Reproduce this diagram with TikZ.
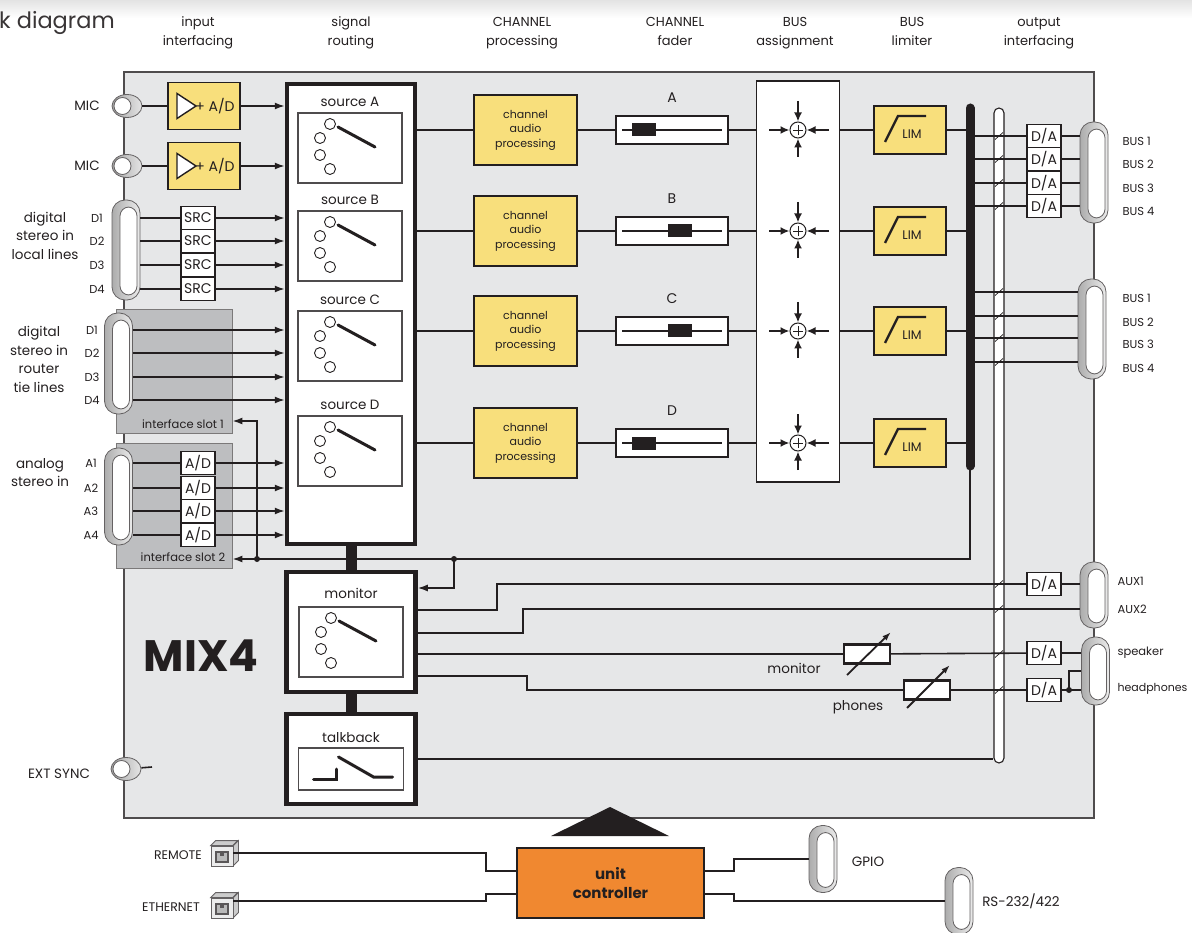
\documentclass[tikz,border=0pt]{standalone}
\usepackage{fontspec}
\setmainfont{Poppins}
\usetikzlibrary{positioning,arrows.meta,shapes.geometric}

\definecolor{ink}{HTML}{231F20}
\definecolor{panel}{HTML}{E6E7E8}
\definecolor{slotgray}{HTML}{BDBEC0}
\definecolor{procyel}{HTML}{F8DF7C}
\definecolor{ctrlorange}{HTML}{F08830}

\tikzset{
  wire/.style={draw=ink, line width=1.6pt},
  arr/.style={wire, -{Latex[length=10pt,width=7pt]}},
  sumarr/.style={draw=ink, line width=2pt, -{Latex[length=9pt,width=8pt]}},
  potarr/.style={draw=ink, line width=1.8pt, -{Latex[length=9pt,width=6pt]}},
  hdr/.style={align=center, text=ink, text height=10pt, text depth=3.5pt, font=\fontsize{13}{19}\selectfont},
  lbl/.style={align=center, text=ink, font=\fontsize{13.5}{18.5}\selectfont},
  sml/.style={text=ink, font=\fontsize{11.5}{14}\selectfont},
  ybox/.style={draw=ink, line width=1.5pt, fill=procyel, inner sep=0pt},
  conv/.style={draw=ink, line width=1.1pt, fill=white, inner sep=0pt, minimum width=34pt,
    minimum height=23pt, text=ink, font=\fontsize{14}{14}\selectfont},
  thickbox/.style={draw=ink, line width=4.5pt, fill=white, inner sep=0pt},
  slotbox/.style={draw=ink!60, line width=0.8pt, fill=slotgray, minimum width=116pt},
  swbox/.style={draw=ink!80, line width=1.2pt, fill=white, minimum width=104pt, minimum height=70pt,
    path picture={
      \coordinate (q) at (path picture bounding box.north west);
      \draw[ink, line width=0.9pt] ([shift={(32pt,-11pt)}]q) circle (5.5pt)
        ([shift={(22pt,-25pt)}]q) circle (5.5pt)
        ([shift={(22pt,-42pt)}]q) circle (5.5pt)
        ([shift={(32pt,-56pt)}]q) circle (5.5pt);
      \draw[ink, line width=3pt, line cap=round] ([shift={(40pt,-14pt)}]q) -- ([shift={(77pt,-34pt)}]q);
    }},
  tkbox/.style={draw=ink!80, line width=1.2pt, fill=white, minimum width=105pt, minimum height=42pt,
    path picture={
      \coordinate (q) at (path picture bounding box.north west);
      \draw[ink, line width=3pt, line cap=round] ([shift={(15pt,-31pt)}]q) -- ([shift={(38pt,-31pt)}]q)
        -- ([shift={(38pt,-21pt)}]q);
      \draw[ink, line width=3pt, line cap=round] ([shift={(40pt,-9pt)}]q) -- ([shift={(75pt,-29pt)}]q)
        -- ([shift={(94pt,-29pt)}]q);
    }},
  amp/.style={ybox, minimum width=72pt, minimum height=47pt, text=ink, font=\fontsize{14}{14}\selectfont,
    path picture={
      \coordinate (q) at (path picture bounding box.west);
      \draw[ink, line width=1.4pt, fill=white] ([shift={(9pt,12.5pt)}]q) -- ([shift={(28pt,0pt)}]q)
        -- ([shift={(9pt,-12.5pt)}]q) -- cycle;
    }},
  chan/.style={ybox, minimum width=103pt, minimum height=70pt, align=center, text=ink,
    font=\fontsize{11}{14.5}\selectfont},
  fader/.style={draw=ink, line width=1.5pt, fill=white, minimum width=112pt, minimum height=28pt, inner sep=0pt,
    path picture={
      \coordinate (q) at (path picture bounding box.west);
      \draw[ink, line width=1.4pt] ([xshift=6pt]q) -- ([xshift=106pt]q);
      \fill[ink] ([shift={(#1,6.5pt)}]q) rectangle ([shift={(#1+24pt,-6.5pt)}]q);
    }},
  summer/.style={circle, draw=ink, line width=1pt, fill=white, minimum size=16pt, inner sep=0pt,
    path picture={
      \draw[ink, line width=0.9pt] ([xshift=-5pt]path picture bounding box.center) -- ([xshift=5pt]path picture bounding box.center)
        ([yshift=-5pt]path picture bounding box.center) -- ([yshift=5pt]path picture bounding box.center);
    }},
  limbox/.style={ybox, minimum width=72pt, minimum height=48pt,
    path picture={
      \coordinate (q) at (path picture bounding box.north west);
      \draw[ink, line width=2.4pt] ([shift={(11pt,-36pt)}]q) -- ([shift={(24pt,-10pt)}]q) -- ([shift={(52pt,-10pt)}]q);
      \node[text=ink, font=\fontsize{12.5}{12.5}\selectfont, inner sep=0pt] at ([shift={(38pt,-28pt)}]q) {LIM};
    }},
  dsub/.style={draw=ink!70, line width=0.8pt, rounded corners=13pt, left color=gray!65, right color=gray!15,
    minimum width=28pt, inner sep=0pt,
    path picture={
      \coordinate (q) at (path picture bounding box.north west);
      \coordinate (r) at (path picture bounding box.south east);
      \draw[ink!70, line width=0.8pt, fill=white, rounded corners=9pt] ([shift={(8pt,-7pt)}]q) rectangle ([shift={(-3pt,5pt)}]r);
    }},
  xlr/.style={ellipse, draw=ink!70, line width=0.8pt, left color=gray!70, right color=gray!20,
    minimum width=30pt, minimum height=23pt, inner sep=0pt,
    path picture={
      \draw[ink!70, fill=white, line width=0.8pt] ([xshift=-4.5pt]path picture bounding box.center) circle (8.5pt);
    }},
  jack/.style={draw=ink!70, line width=0.8pt, fill=gray!15, minimum width=22pt, minimum height=20pt, inner sep=0pt,
    path picture={
      \coordinate (q) at (path picture bounding box.north west);
      \fill[ink!75] ([shift={(4pt,-5pt)}]q) rectangle ([shift={(18pt,-17pt)}]q);
      \fill[gray!55] ([shift={(6pt,-7pt)}]q) rectangle ([shift={(16pt,-15pt)}]q);
      \fill[ink!75] ([shift={(9pt,-7pt)}]q) rectangle ([shift={(13pt,-10pt)}]q);
    }},
  jackside/.style={draw=ink!70, line width=0.8pt, fill=gray!40},
  pot/.style={draw=ink, line width=2.2pt, fill=white, minimum width=46pt, minimum height=19pt, inner sep=0pt},
  dot/.style={circle, fill=ink, inner sep=0pt, minimum size=6pt},
}

\begin{document}
\begin{tikzpicture}[x=1pt, y=-1pt]
\useasboundingbox (0,0) rectangle (1192,933);
\shade[top color=gray!22, bottom color=white] (0,0) rectangle (1192,18);
\node[anchor=base west, text=ink!90, font=\fontsize{22.5}{22.5}\selectfont, inner sep=0pt] (title) at (-1,29) {k diagram};

% column heads
\node[hdr] (hIn)  at (198,42)  {input\\interfacing};
\node[hdr] (hRt)  at (351,42)  {signal\\routing};
\node[hdr] (hCp)  at (522,42)  {CHANNEL\\processing};
\node[hdr] (hCf)  at (675,42)  {CHANNEL\\fader};
\node[hdr] (hBa)  at (795,42)  {BUS\\assignment};
\node[hdr] (hBl)  at (912,42)  {BUS\\limiter};
\node[hdr] (hOut) at (1039,42) {output\\interfacing};

% unit frame
\node[draw=ink!80, line width=1.3pt, fill=panel, minimum width=970pt, minimum height=746pt, inner sep=0pt] (unit) at (609,445) {};
\node[slotbox, minimum height=124pt] (slot1) at (174,371) {};
\node[slotbox, minimum height=125pt] (slot2) at (174,505.5) {};
\node[sml] (s1l) at (183,424) {interface slot 1};
\node[sml] (s2l) at (183,557) {interface slot 2};
\node[draw=ink, line width=1.1pt, fill=white, rounded corners=5pt, minimum width=10pt, minimum height=655pt, inner sep=0pt] (wbus) at (999,435.5) {};

% black bus and return path
\coordinate (bbtop) at (970,108);
\coordinate (bbbot) at (970,466);
\coordinate (ret) at (970,559);
\coordinate (j1) at (257,559);
\coordinate (j2) at (454,559);
\draw[arr] (bbbot) -- (ret) -- (ret -| slot2.east);
\draw[arr] (j1) |- ([yshift=-50pt]slot1.east);
\draw[ink, line width=9pt, line cap=round] (bbtop) -- (bbbot);

% routing, monitor, talkback
\node[thickbox, minimum width=128pt, minimum height=460pt] (route) at (351,314) {};
\foreach \n/\y in {A/148,B/246,C/346,D/451}{
  \node[swbox] (sw\n) at (350,\y) {};
  \node[lbl, above=2pt of sw\n] (ls\n) {source \n};
}
\node[thickbox, minimum width=129pt, minimum height=120pt] (mon) at (351,632) {};
\node[swbox] (swM) at (351,642) {};
\node[lbl, above=4pt of swM] (lmon) {monitor};
\node[thickbox, minimum width=129pt, minimum height=90pt] (talk) at (351,759) {};
\node[tkbox] (swT) at (351,769) {};
\node[lbl, above=1.5pt of swT] (ltalk) {talkback};
\draw[ink, line width=11pt] (route.south) -- (mon.north);
\draw[ink, line width=11pt] (mon.south) -- (talk.north);
\draw[arr] (j2) |- ([yshift=44pt]mon.east);
\node[dot] (d1) at (j1) {};
\node[dot] (d2) at (j2) {};

% mic inputs
\foreach \i/\y in {1/106,2/166}{
  \node[lbl] (ml\i) at (87,\y) {MIC};
  \node[xlr] (mic\i) at (127,\y) {};
  \node[amp] (amp\i) at (204,\y) {\hspace*{22pt}+ A/D};
  \draw[wire] (mic\i) -- (amp\i);
  \draw[arr] (amp\i) -- (amp\i -| route.west);
}

% digital local lines
\node[dsub, minimum height=100pt] (dloc) at (126,250) {};
\node[lbl] (tloc) at (45,235.5) {digital\\stereo in\\local lines};
\foreach \i/\y in {1/218,2/241,3/265,4/289}{
  \node[sml] (dl\i) at (97,\y) {D\i};
  \node[conv] (src\i) at (198,\y) {SRC};
  \draw[wire] (dloc.east |- src\i) -- (src\i);
  \draw[arr] (src\i) -- (src\i -| route.west);
}

% router tie lines
\node[dsub, minimum height=101pt] (drt) at (118.5,363.5) {};
\node[lbl] (trt) at (39,359.5) {digital\\stereo in\\router\\tie lines};
\foreach \i/\y in {1/330,2/353,3/377,4/400}{
  \node[sml] (dr\i) at (92,\y) {D\i};
  \coordinate (rt\i) at (drt.east |- 0,\y);
  \draw[arr] (rt\i) -- (rt\i -| route.west);
}

% analog inputs
\node[dsub, minimum height=97pt] (dan) at (118.5,496.5) {};
\node[lbl] (tan) at (40,472.5) {analog\\stereo in};
\foreach \i/\y in {1/463,2/488,3/511,4/535}{
  \node[sml] (al\i) at (91,\y) {A\i};
  \node[conv] (ad\i) at (198,\y) {A/D};
  \draw[wire] (dan.east |- ad\i) -- (ad\i);
  \draw[arr] (ad\i) -- (ad\i -| route.west);
}

% channels, faders, assignment, limiters
\node[draw=ink, line width=1.5pt, fill=white, minimum width=83pt, minimum height=401pt] (assign) at (798,281.5) {};
\foreach \n/\y/\k in {A/130/16pt,B/231/52pt,C/331/52pt,D/443/16pt}{
  \node[chan] (ch\n) at (525.5,\y) {channel\\audio\\processing};
  \node[fader=\k] (fd\n) at (672,\y) {};
  \node[lbl, font=\fontsize{14}{14}\selectfont, above=9pt of fd\n] (fl\n) {\n};
  \node[summer] (sm\n) at (798,\y) {};
  \node[limbox] (lim\n) at (910,\y) {};
  \draw[wire] (route.east |- ch\n) -- (ch\n);
  \draw[wire] (ch\n) -- (fd\n);
  \draw[wire] (fd\n) -- (fd\n -| assign.west);
  \draw[wire] (assign.east |- lim\n) -- (lim\n);
  \draw[wire] (lim\n) -- (lim\n -| bbtop);
  \draw[sumarr] ([yshift=29pt]sm\n.center) -- (sm\n.north);
  \draw[sumarr] ([yshift=-27pt]sm\n.center) -- (sm\n.south);
  \draw[sumarr] ([xshift=-29pt]sm\n.center) -- (sm\n.west);
  \draw[sumarr] ([xshift=31pt]sm\n.center) -- (sm\n.east);
}

% bus outputs
\node[dsub, minimum height=101pt] (outA) at (1094,172.5) {};
\node[dsub, minimum height=100pt] (outB) at (1092,329) {};
\foreach \i/\y in {1/136,2/159,3/183,4/206}{
  \node[conv] (da\i) at (1044,\y) {D/A};
  \draw[wire] (bbtop |- da\i) -- (da\i);
  \draw[wire] (da\i) -- (da\i -| outA.west);
  \node[sml, anchor=west] (ba\i) at (1119,\y+5) {BUS \i};
}
\foreach \i/\y in {1/292,2/316,3/338,4/362}{
  \coordinate (bo\i) at (970,\y);
  \draw[wire] (bo\i) -- (bo\i -| outB.west);
  \node[sml, anchor=west] (bb\i) at (1119,\y+6) {BUS \i};
}

% monitor outputs
\node[dsub, minimum height=66pt] (aux) at (1094,595) {};
\node[dsub, minimum height=68pt] (hp) at (1095.5,671) {};
\node[conv] (daX) at (1044,584) {D/A};
\node[conv] (daS) at (1044,653) {D/A};
\node[conv] (daH) at (1044,690) {D/A};
\node[pot] (potM) at (867,654) {};
\node[pot] (potP) at (927,690) {};
\coordinate (auxin) at (aux.west |- 0,609);
\coordinate (hpj) at (1069,690);
\draw[wire] ([yshift=22pt]mon.east) -| (497,584) -- (daX);
\draw[wire] (daX) -- (daX -| aux.west);
\draw[wire] ([yshift=-1pt]mon.east) -| (523,609) -- (auxin);
\draw[wire] ([yshift=-22pt]mon.east) -- (potM);
\draw[wire] (potM) -- (daS);
\draw[wire] (daS) -- (daS -| hp.west);
\draw[wire] ([yshift=-44pt]mon.east) -| (527,690) -- (potP);
\draw[wire] (potP) -- (daH);
\draw[wire] (daH) -- (daH -| hp.west);
\draw[wire] (hpj) |- (hp.west);
\node[dot] (d3) at (hpj) {};
\draw[potarr] ([shift={(-20pt,-21pt)}]potM.center) -- ([shift={(24pt,22pt)}]potM.center);
\draw[potarr] ([shift={(-20pt,-18pt)}]potP.center) -- ([shift={(23pt,25pt)}]potP.center);
\node[lbl] (lpm) at (794,668) {monitor};
\node[lbl] (lpp) at (858,707) {phones};
\draw[wire] (talk) -- (talk -| wbus.west);
\node[sml, anchor=west] (lx1) at (1114,581) {AUX1};
\node[sml, anchor=west] (lx2) at (1114,609) {AUX2};
\node[sml, anchor=west] (lsp) at (1114,653) {speaker};
\node[sml, anchor=west, font=\fontsize{11}{14}\selectfont] (lhp) at (1114,689) {headphones};

% bus ticks
\foreach \y in {136,159,183,206,292,316,338,362,584,609,654,690}
  \draw[ink, line width=0.7pt] (995,\y+3.5) -- (1003,\y-3.5);

% sync and logo
\node[lbl] (lext) at (59,774) {EXT SYNC};
\node[xlr] (ext) at (126,769) {};
\coordinate (extend) at (152,767);
\draw[wire] (ext) -- (extend);
\node[text=ink, font=\fontsize{44}{44}\selectfont\bfseries] (logo) at (201,656) {MIX4};

% unit controller
\fill[ink] (551,836) -- (610,807) -- (669,836) -- cycle;
\node[draw=ink, line width=1.5pt, fill=ctrlorange, minimum width=187pt, minimum height=70pt, align=center,
  text=ink, font=\fontsize{15}{19}\selectfont\bfseries] (ctrl) at (610.5,883) {unit\\controller};
\node[jack] (remj) at (222,856) {};
\node[jack] (ethj) at (222,908) {};
\foreach \j in {remj,ethj}{
  \draw[jackside] (\j.north west) -- ++(5,-5) -- ++(22,0) -- ++(-5,5) -- cycle;
  \draw[jackside] (\j.north east) -- ++(5,-5) -- ++(0,20) -- ++(-5,5) -- cycle;
}
\node[lbl, font=\fontsize{12.5}{14}\selectfont] (lrem) at (178,855) {REMOTE};
\node[lbl, font=\fontsize{12.5}{14}\selectfont] (leth) at (171,907) {ETHERNET};
\node[dsub, minimum height=67pt] (gpio) at (823,859) {};
\node[dsub, minimum height=67pt] (rs) at (959,901) {};
\node[lbl] (lgp) at (868,862) {GPIO};
\node[lbl] (lrs) at (1021,901) {RS-232/422};
\draw[wire] ([yshift=3pt]remj.east) -- ++(8,0) -| (486,871) -- ([yshift=12pt]ctrl.west);
\draw[wire] ([yshift=7pt]ethj.east) -- ++(8,0) -| (486,894) -- ([yshift=-11pt]ctrl.west);
\draw[wire] ([yshift=12pt]ctrl.east) -- (734,871) |- (gpio.west);
\draw[wire] ([yshift=-11pt]ctrl.east) -- (734,894) |- (rs.west);
\end{tikzpicture}
\end{document}
